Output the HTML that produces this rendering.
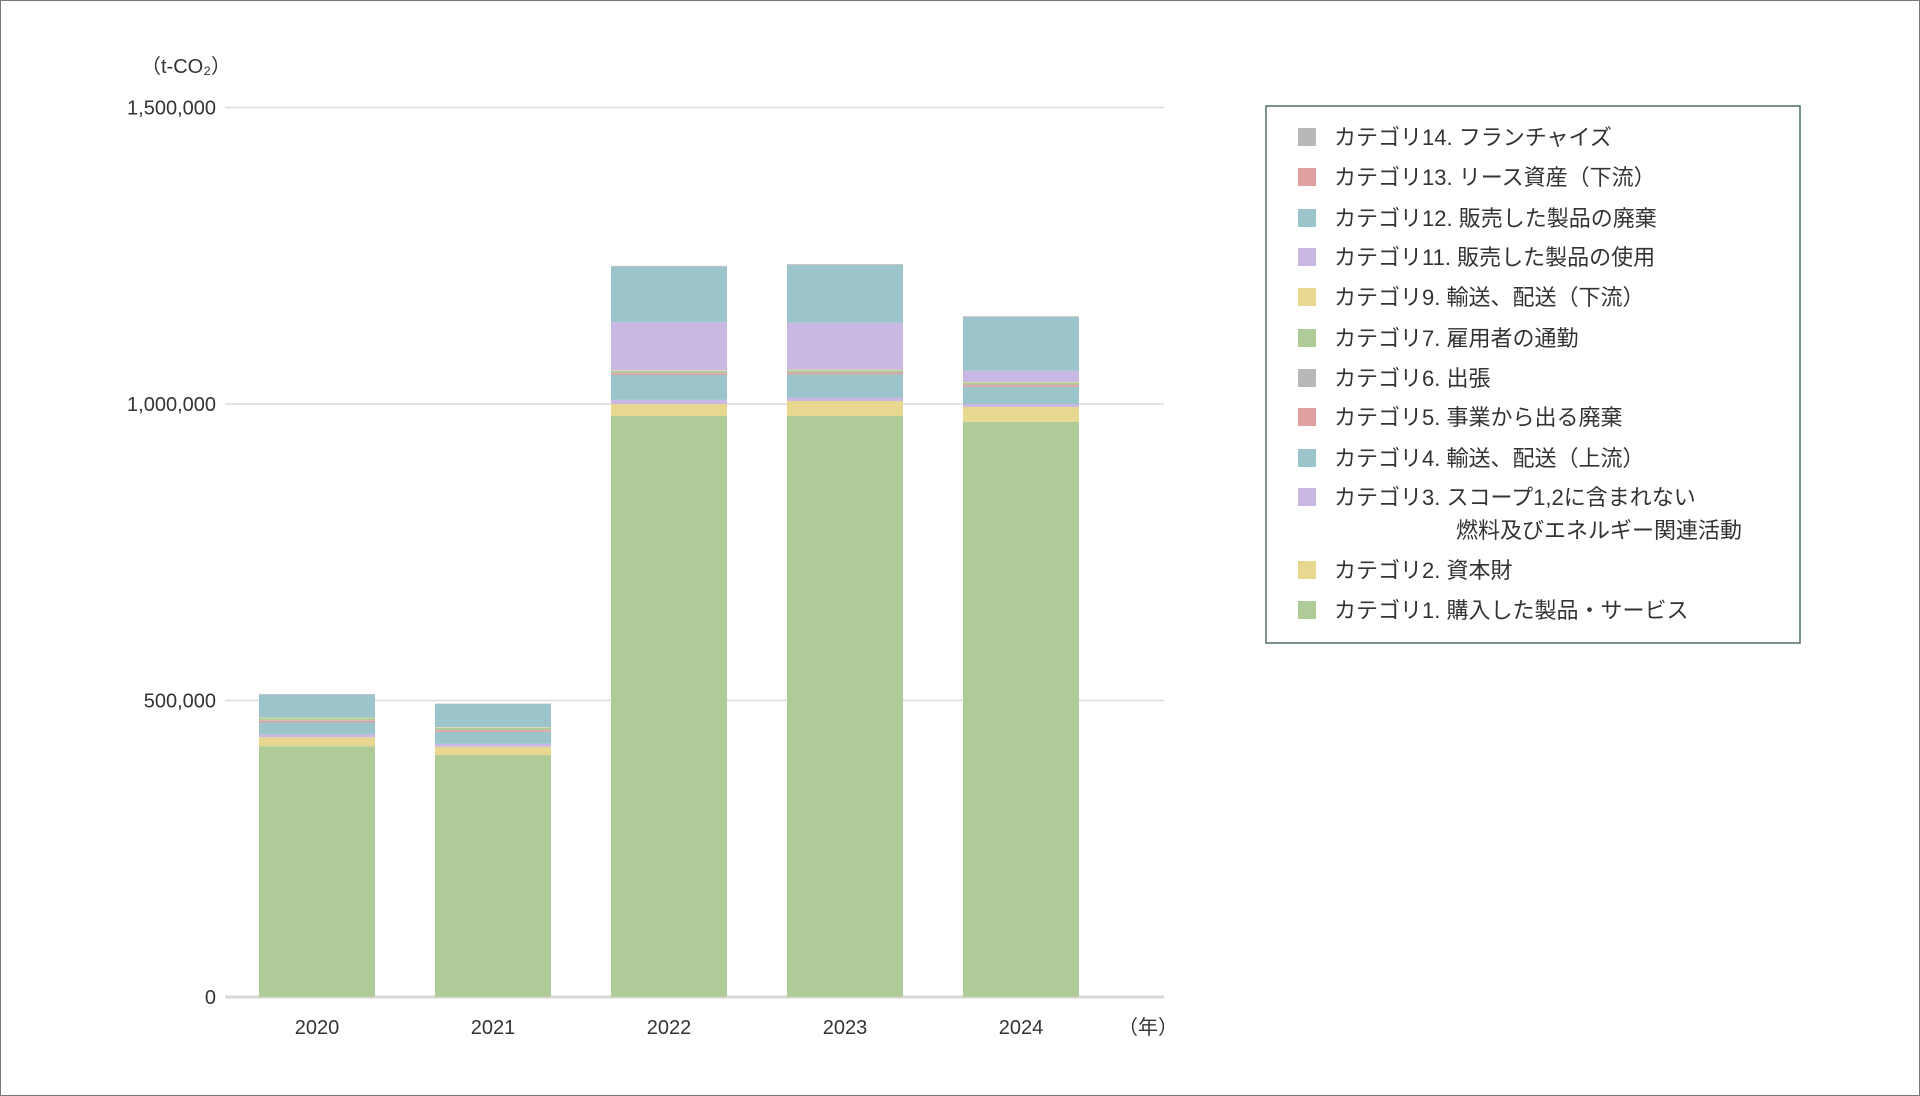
<!DOCTYPE html>
<html><head><meta charset="utf-8"><style>
body{margin:0;background:#fff;font-family:"Liberation Sans","Noto Sans CJK JP",sans-serif;}
#wrap{position:relative;width:1918px;height:1094px;border:1px solid #777;overflow:hidden;}
svg text{font-family:"Liberation Sans","Noto Sans CJK JP",sans-serif;}
</style></head><body>
<div id="wrap">
<svg id="chart" width="1918" height="1094"></svg>
</div>
<script>
const years=["2020","2021","2022","2023","2024"];
const cat1=[423,408,980,980,970];
const cat2=[15,14,20,25,25];
const cat3=[5,5,7,6,5];
const cat4=[20,20,42,39,29];
const cat5=[3,3,3,3,3];
const cat6=[1,1,1,1,1];
const cat7=[3,3,3,3,3];
const cat9=[1,1,1,1,1];
const cat11=[0,0,81,79,19];
const cat12=[39,39,94,98,91];
const cat13=[0.5,0.5,0.5,0.5,0.5];
const cat14=[0.5,0.5,0.5,0.5,0.5];
const yTicks=[0,500000,1000000,1500000];
const yTickLabels=["0","500,000","1,000,000","1,500,000"];
const seriesNames=["カテゴリ14. フランチャイズ","カテゴリ13. リース資産（下流）","カテゴリ12. 販売した製品の廃棄","カテゴリ11. 販売した製品の使用","カテゴリ9. 輸送、配送（下流）","カテゴリ7. 雇用者の通勤","カテゴリ6. 出張","カテゴリ5. 事業から出る廃棄","カテゴリ4. 輸送、配送（上流）","カテゴリ3. スコープ1,2に含まれない|燃料及びエネルギー関連活動","カテゴリ2. 資本財","カテゴリ1. 購入した製品・サービス"];

const NS="http://www.w3.org/2000/svg";
const svg=document.getElementById('chart');
const y0=996,pxPer1000=0.593;
function yScale(v){return y0-v/1000*pxPer1000;}
function xCenter(i){return 316+i*176;}
const barW=116;
function mk(tag,attrs,parent){const e=document.createElementNS(NS,tag);for(const k in attrs)e.setAttribute(k,attrs[k]);(parent||svg).appendChild(e);return e;}

// grid + y labels
yTicks.forEach((t,i)=>{
  const y=yScale(t);
  const g=mk('line',{x1:224,x2:1163,y1:y,y2:y,stroke:i===0?'#d8d8d8':'#dcdcdc','stroke-width':i===0?3:1.5});
  
  
  const tx=mk('text',{x:215,y:y+7,'text-anchor':'end','font-size':20,fill:'#333'});
  tx.textContent=yTickLabels[i];
  
  
});
const unit=mk('text',{x:140,y:72,'font-size':20,fill:'#333'});
unit.textContent='（t-CO₂）';



const stack=[[cat1,'#aecb98'],[cat2,'#e8d78f'],[cat3,'#c9b8e3'],[cat4,'#9bc4cb'],[cat5,'#e0a0a0'],[cat6,'#b8b8b8'],[cat7,'#aecb98'],[cat9,'#e8d78f'],[cat11,'#c9b8e3'],[cat12,'#9bc4cb'],[cat13,'#e0a0a0'],[cat14,'#b8b8b8']];
years.forEach((yr,i)=>{
  let acc=0;
  stack.forEach(([arr,col])=>{
    const v=arr[i]*1000;
    const yt=yScale(acc+v),yb=yScale(acc);
    const r=mk('rect',{x:xCenter(i)-barW/2,y:yt,width:barW,height:Math.max(0,yb-yt),fill:col});
    
    
    acc+=v;
  });
  const t=mk('text',{x:xCenter(i),y:1033,'text-anchor':'middle','font-size':20,fill:'#333'});
  t.textContent=yr;
  
  
});
const yl=mk('text',{x:1117,y:1033,'font-size':20,fill:'#333'});
yl.textContent='（年）';



// legend
const lb=mk('rect',{x:1265,y:105,width:534,height:537,fill:'#fff',stroke:'#4d6e63','stroke-width':1.5});


const legendColors=['#b8b8b8','#e0a0a0','#9bc4cb','#c9b8e3','#e8d78f','#aecb98','#b8b8b8','#e0a0a0','#9bc4cb','#c9b8e3','#e8d78f','#aecb98'];
const rowY=[136,176,217,256,296,337,377,416,457,496,569,609];
seriesNames.forEach((n,i)=>{
  const y=rowY[i];
  const s=mk('rect',{x:1297,y:y-9,width:18,height:18,fill:legendColors[i]});
  
  
  const parts=n.split('|');
  const t=mk('text',{x:1333,y:y+8,'font-size':22,fill:'#333'});
  t.textContent=parts[0];
  
  
  if(parts[1]){
    const t2=mk('text',{x:1455,y:y+41,'font-size':22,fill:'#333'});
    t2.textContent=parts[1];
    
    
  }
});
</script>
</body></html>
